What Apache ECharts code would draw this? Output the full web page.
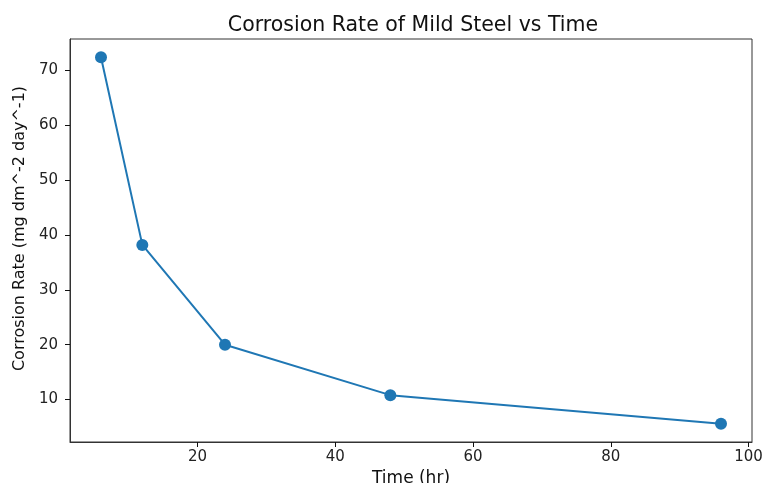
<!DOCTYPE html>
<html>
<head>
<meta charset="utf-8">
<script src="https://cdn.jsdelivr.net/npm/echarts@6/dist/echarts.min.js"></script>
<style>html,body{margin:0;padding:0;background:#fff}#c{width:766px;height:483px}</style>
</head>
<body>
<div id="c"></div>
<script>
const timeHr = [6, 12, 24, 48, 96];
const corrosionRate = [72.4, 38.2, 20.0, 10.8, 5.6];
const xTicks = [20, 40, 60, 80, 100];
const yTicks = [10, 20, 30, 40, 50, 60, 70];

const chart = echarts.init(document.getElementById('c'), null, {renderer: 'canvas'});
const font = 'DejaVu Sans';
chart.setOption({
  animation: false,
  backgroundColor: '#fff',
  title: {
    text: 'Corrosion Rate of Mild Steel vs Time',
    left: 408, top: 10, textAlign: 'center',
    textStyle: {fontFamily: font, fontSize: 20.5, fontWeight: 'normal', color: '#111'}
  },
  grid: {left: 70, right: 14, top: 39, bottom: 41, show: true, borderColor: '#333', borderWidth: 1, outerBoundsMode: 'none', containLabel: false},
  xAxis: {
    type: 'value', min: 1.5, max: 100.5,
    name: 'Time (hr)', nameLocation: 'middle', nameGap: 27,
    nameTextStyle: {fontFamily: font, fontSize: 17, color: '#111'},
    axisLine: {show: true, onZero: false, lineStyle: {color: '#333', width: 1}},
    axisTick: {show: true, length: 5, customValues: xTicks, lineStyle: {color: '#111'}},
    axisLabel: {customValues: xTicks, fontFamily: font, fontSize: 15, color: '#222', margin: 8},
    splitLine: {show: false}
  },
  yAxis: {
    type: 'value', min: 2.26, max: 75.74,
    name: 'Corrosion Rate (mg dm^-2 day^-1)', nameLocation: 'middle', nameGap: 42,
    nameTextStyle: {fontFamily: font, fontSize: 16, color: '#111', padding: [0, 0, 0, 24]},
    axisLine: {show: true, onZero: false, lineStyle: {color: '#333', width: 1}},
    axisTick: {show: true, length: 5, customValues: yTicks, lineStyle: {color: '#111'}},
    axisLabel: {customValues: yTicks, fontFamily: font, fontSize: 15, color: '#222', margin: 12},
    splitLine: {show: false}
  },
  series: [{
    type: 'line',
    data: timeHr.map((t, i) => [t, corrosionRate[i]]),
    symbol: 'circle', symbolSize: 12,
    lineStyle: {color: '#1f77b4', width: 2},
    itemStyle: {color: '#1f77b4'}
  }]
});
</script>
</body>
</html>
